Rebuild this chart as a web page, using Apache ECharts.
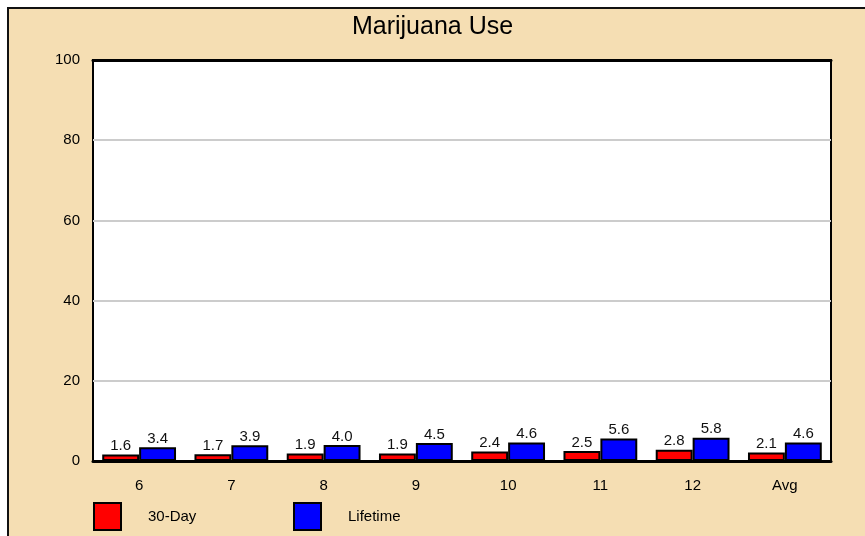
<!DOCTYPE html>
<html>
<head>
<meta charset="utf-8">
<script src="https://cdn.jsdelivr.net/npm/echarts@6/dist/echarts.min.js"></script>
<style>
html,body{margin:0;padding:0;background:#F5DEB3;}
#c{width:865px;height:536px;}
</style>
</head>
<body>
<div id="c"></div>
<script>
var categories = ['6','7','8','9','10','11','12','Avg'];
var thirtyDay = [1.6,1.7,1.9,1.9,2.4,2.5,2.8,2.1];
var lifetime = [3.4,3.9,4.0,4.5,4.6,5.6,5.8,4.6];
var seriesNames = ['30-Day','Lifetime'];

var chart = echarts.init(document.getElementById('c'));
var font = 'Liberation Sans, Arial, sans-serif';
function bar(name, data, color){
  return {
    name: name, type: 'bar', data: data, xAxisIndex: 0,
    barGap: '0%', barCategoryGap: '20%',
    itemStyle: {color: color, borderColor: '#000', borderWidth: 2},
    label: {show: true, position: 'top', distance: 1, color: '#111', fontSize: 15, fontFamily: font,
      formatter: function(p){return p.value.toFixed(1);}},
    emphasis: {disabled: true},
    animation: false
  };
}
var legendCommon = {top: 497, itemWidth: 27, itemHeight: 27, icon: 'rect',
  itemStyle: {borderColor: '#000', borderWidth: 2},
  textStyle: {fontFamily: font, fontSize: 15, color: '#000', padding: [0,0,0,22]}};
chart.setOption({
  backgroundColor: '#F5DEB3',
  animation: false,
  title: {text: 'Marijuana Use', left: 'center', top: 10,
    textStyle: {fontFamily: font, fontSize: 25, fontWeight: 'normal', color: '#000'}},
  graphic: [
    {type: 'rect', shape: {x: 0, y: 0, width: 865, height: 7}, style: {fill: '#fff'}, silent: true},
    {type: 'rect', shape: {x: 0, y: 0, width: 7, height: 536}, style: {fill: '#fff'}, silent: true},
    {type: 'line', shape: {x1: 8, y1: 8, x2: 865, y2: 8}, style: {stroke: '#111', lineWidth: 2}, silent: true},
    {type: 'line', shape: {x1: 8, y1: 7, x2: 8, y2: 536}, style: {stroke: '#111', lineWidth: 2}, silent: true}
  ],
  legend: [
    Object.assign({data: [seriesNames[0]], left: 88}, legendCommon),
    Object.assign({data: [seriesNames[1]], left: 288}, legendCommon)
  ],
  grid: {left: 93, right: 34, top: 60, bottom: 75, show: true, backgroundColor: '#fff',
    borderColor: '#000', borderWidth: 2, containLabel: false},
  xAxis: [
    {type: 'category', data: categories, position: 'bottom',
      axisLine: {show: true, lineStyle: {color: '#000', width: 3}}, axisTick: {show: false},
      axisLabel: {margin: 17, fontFamily: font, fontSize: 15, color: '#000'}},
    {type: 'category', data: categories, position: 'top',
      axisLine: {show: true, lineStyle: {color: '#000', width: 3}}, axisTick: {show: false},
      axisLabel: {show: false}}
  ],
  yAxis: {type: 'value', min: 0, max: 100, interval: 20,
    axisLine: {show: false}, axisTick: {show: false},
    axisLabel: {margin: 13, fontFamily: font, fontSize: 15, color: '#000', padding: [4,0,0,0]},
    splitLine: {lineStyle: {color: '#ccc', width: 2}}},
  series: [bar(seriesNames[0], thirtyDay, '#ff0000'), bar(seriesNames[1], lifetime, '#0000ff')]
});
</script>
</body>
</html>
